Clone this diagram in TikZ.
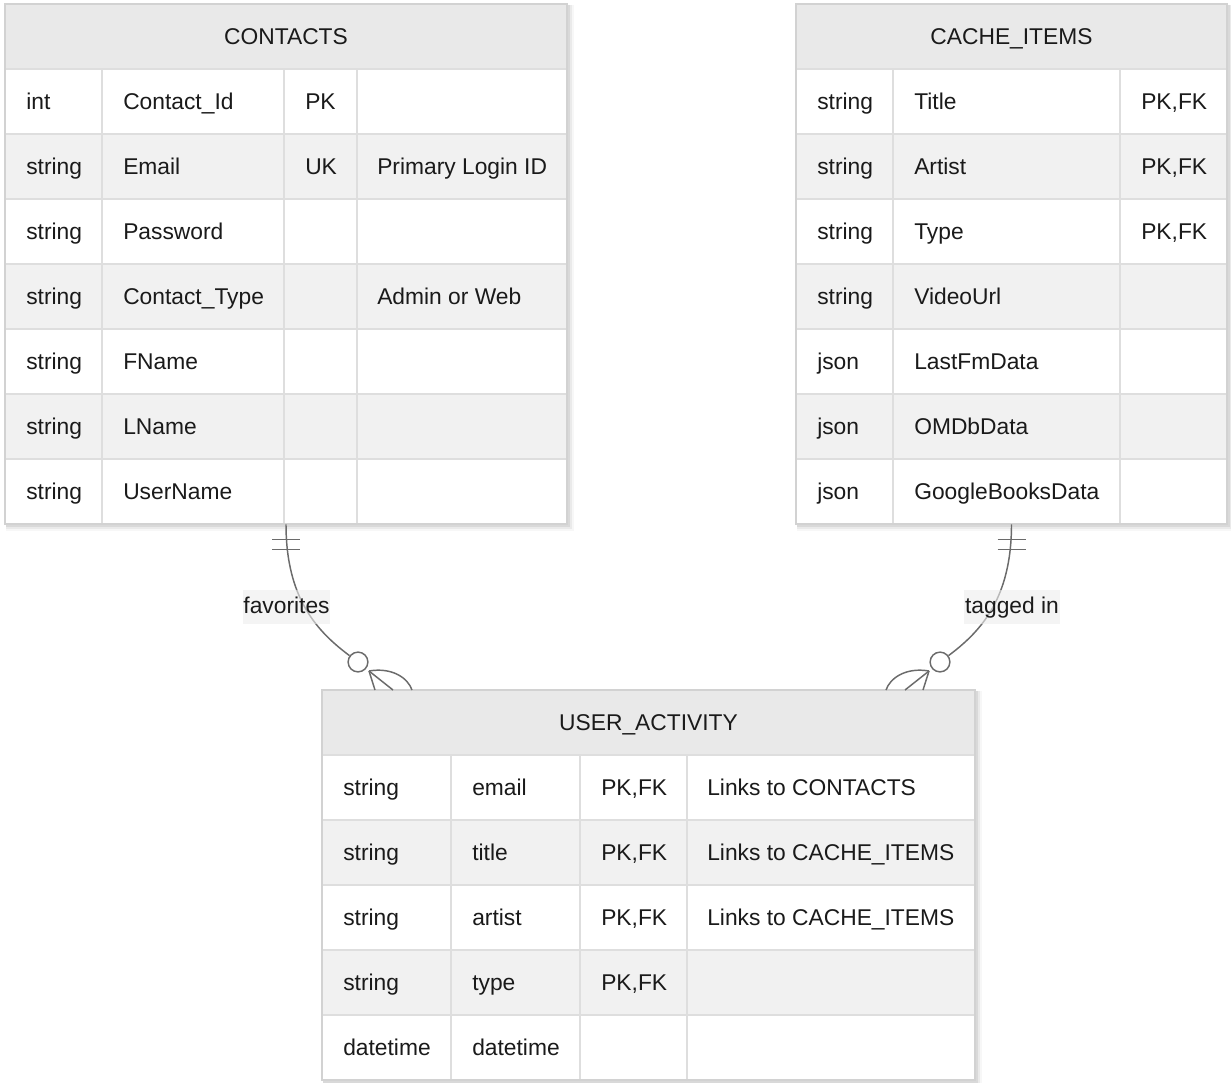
\documentclass[tikz,border=0pt]{standalone}
\usepackage{fontspec}
\setmainfont{Liberation Sans}
\usetikzlibrary{calc,fit}

\definecolor{headfill}{HTML}{E9E9E9}
\definecolor{bandfill}{HTML}{F1F1F1}
\definecolor{gridline}{HTML}{DEDEDE}
\definecolor{frameline}{HTML}{D2D2D2}
\definecolor{relcolor}{HTML}{6B6B6B}
\definecolor{labelfill}{HTML}{EDEDED}
\definecolor{ink}{HTML}{1A1A1A}

\newcommand\pkfk{PK,FK}
\def\blankcell{-}

\tikzset{
  celltext/.style={inner sep=0pt, text=ink, font=\fontsize{17.1}{20}\selectfont},
  tablebox/.style={inner sep=0pt, draw=none},
  gridrule/.style={draw=gridline, line width=1.3pt},
  framerule/.style={draw=frameline, line width=1.4pt},
  relline/.style={draw=relcolor, line width=1.1pt},
  optmark/.style={circle, draw=relcolor, line width=1.1pt, fill=white, minimum size=14.8pt, inner sep=0pt},
  rellabel/.style={celltext, fill=labelfill, fill opacity=0.6, text opacity=1,
    text height=12.6pt, text depth=3.6pt, inner ysep=4.6pt, inner xsep=0.6pt},
}

% entity table: #1 name, #2 title, #3 left, #4 top, #5 right,
% #6 number of rows, #7 column left edges, #8 rows (type/name/key/comment)
\newcommand\ertable[8]{%
  \pgfmathsetmacro\tblbot{#4+65*(#6+1)}%
  \pgfmathsetmacro\tblmid{(#3+#5)/2}%
  % soft drop shadow
  \fill[black, opacity=0.03] (#3+1,#4+1) rectangle (#5+7,\tblbot+7);
  \fill[black, opacity=0.05] (#3+1,#4+1) rectangle (#5+5,\tblbot+5);
  \fill[black, opacity=0.07] (#3+1,#4+1) rectangle (#5+3,\tblbot+3);
  \fill[white] (#3,#4) rectangle (#5,\tblbot);
  \node[tablebox, fit={(#3,#4) (#5,\tblbot)}] (#1) {};
  % header and banded rows
  \fill[headfill] (#3,#4) rectangle (#5,#4+65);
  \foreach \ty/\nm/\ky/\cm [count=\i] in {#8} {
    \pgfmathsetmacro\rowtop{#4+65*\i}
    \ifodd\i\else \fill[bandfill] (#3,\rowtop) rectangle (#5,\rowtop+65); \fi
  }
  % cell rules
  \foreach \k in {1,...,#6} \draw[gridrule] (#3,#4+65*\k) -- (#5,#4+65*\k);
  \foreach \c in {#7} \draw[gridrule] (\c,#4+65) -- (\c,\tblbot);
  \draw[framerule] (#3,#4) rectangle (#5,\tblbot);
  % texts
  \node[celltext, anchor=base] (#1-title) at (\tblmid,#4+40) {#2};
  \foreach \ty/\nm/\ky/\cm [count=\i] in {#8} {
    \pgfmathsetmacro\rowbase{#4+65*\i+40}
    \pgfmathsetmacro\xa{{#7}[0]+21}
    \pgfmathsetmacro\xb{{#7}[1]+21}
    \node[celltext, anchor=base west] (#1-\i-type) at (\xa,\rowbase) {\ty};
    \node[celltext, anchor=base west] (#1-\i-name) at (\xb,\rowbase) {\nm};
    \ifx\ky\blankcell\else
      \pgfmathsetmacro\xc{{#7}[2]+21}
      \node[celltext, anchor=base west] (#1-\i-key) at (\xc,\rowbase) {\ky};
    \fi
    \ifx\cm\blankcell\else
      \pgfmathsetmacro\xd{{#7}[3]+20}
      \node[celltext, anchor=base west] (#1-\i-note) at (\xd,\rowbase) {\cm};
    \fi
  }
}

\begin{document}
\begin{tikzpicture}[x=0.75pt, y=-0.75pt]
\useasboundingbox (0,0) rectangle (1231,1082);
\fill[white] (0,0) rectangle (1231,1082);

\ertable{contacts}{CONTACTS}{5}{4}{567}{7}{5,102,284,357}{
  int/Contact\_Id/PK/-,
  string/Email/UK/Primary Login ID,
  string/Password/-/-,
  string/Contact\_Type/-/Admin or Web,
  string/FName/-/-,
  string/LName/-/-,
  string/UserName/-/-}

\ertable{cache}{CACHE\_ITEMS}{796}{4}{1227}{7}{796,893,1120}{
  string/Title/\pkfk/-,
  string/Artist/\pkfk/-,
  string/Type/\pkfk/-,
  string/VideoUrl/-/-,
  json/LastFmData/-/-,
  json/OMDbData/-/-,
  json/GoogleBooksData/-/-}

\ertable{useract}{USER\_ACTIVITY}{322}{690}{975}{5}{322,451,580,687}{
  string/email/\pkfk/Links to CONTACTS,
  string/title/\pkfk/Links to CACHE\_ITEMS,
  string/artist/\pkfk/Links to CACHE\_ITEMS,
  string/type/\pkfk/-,
  datetime/datetime/-/-}

% CONTACTS ||--o{ USER_ACTIVITY : favorites
\node[optmark] (fav-o) at (358,662) {};
\draw[relline] (contacts.south) .. controls ($(contacts.south)+(0,75)$) and ($(fav-o)+(-40,-30)$) .. (fav-o);
\draw[relline] ($(contacts.south)+(-14,15)$) -- +(28,0);
\draw[relline] ($(contacts.south)+(-14,25)$) -- +(28,0);
\coordinate (fav-foot) at ($(fav-o)+(11,9)$);
\draw[relline] (fav-foot) -- ($(fav-foot)+(6,19)$);
\draw[relline] (fav-foot) -- ($(fav-foot)+(24,19)$);
\draw[relline] (fav-foot) .. controls +(23,-4) and +(-4,-12) .. ($(fav-foot)+(43,19)$);
\node[rellabel] (fav-label) at (286.5,607) {favorites};

% CACHE_ITEMS ||--o{ USER_ACTIVITY : tagged in
\node[optmark] (tag-o) at (940,662) {};
\draw[relline] (cache.south) .. controls ($(cache.south)+(0,75)$) and ($(tag-o)+(40,-30)$) .. (tag-o);
\draw[relline] ($(cache.south)+(-14,15)$) -- +(28,0);
\draw[relline] ($(cache.south)+(-14,25)$) -- +(28,0);
\coordinate (tag-foot) at ($(tag-o)+(-11,9)$);
\draw[relline] (tag-foot) -- ($(tag-foot)+(-6,19)$);
\draw[relline] (tag-foot) -- ($(tag-foot)+(-24,19)$);
\draw[relline] (tag-foot) .. controls +(-23,-4) and +(4,-12) .. ($(tag-foot)+(-43,19)$);
\node[rellabel] (tag-label) at (1012,607) {tagged in};
\end{tikzpicture}
\end{document}
